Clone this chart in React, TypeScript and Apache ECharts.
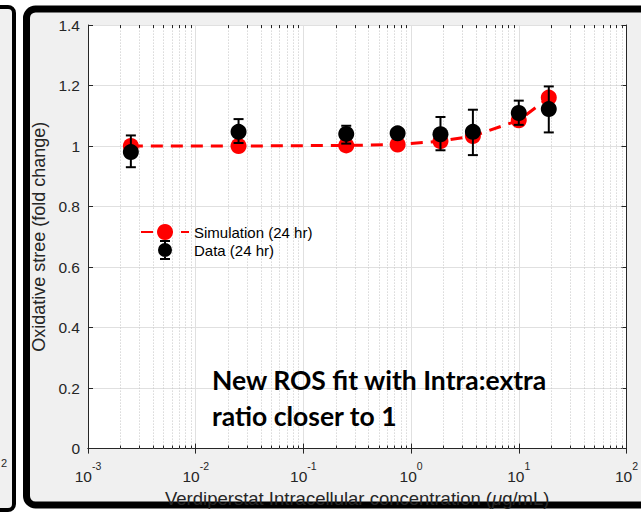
import React, { useEffect, useRef } from "react";
import * as echarts from "echarts";

// ---- data ----
const concentrations = [0.0025, 0.025, 0.25, 0.75, 1.875, 3.75, 10, 19];
const simulation = [1.0, 1.0, 1.002, 1.005, 1.016, 1.033, 1.085, 1.16];
const dataMean = [0.98, 1.047, 1.04, 1.042, 1.039, 1.047, 1.109, 1.122];
const dataLow = [0.93, 1.01, 1.008, 1.03, 0.986, 0.97, 1.07, 1.045];
const dataHigh = [1.035, 1.089, 1.067, 1.054, 1.096, 1.12, 1.15, 1.197];

const decadeExponents = [-3, -2, -1, 0, 1];
const minorMultipliers = [2, 3, 4, 5, 6, 7, 8, 9];
const minorTickValues: number[] = [];
decadeExponents.forEach((e) =>
  minorMultipliers.forEach((m) => minorTickValues.push(m * Math.pow(10, e)))
);

const FONT = "'Liberation Sans', Arial, Helvetica, sans-serif";
const AX = "#262626";
const X_MIN = 0.001;
const X_MAX = 100;
const Y_MIN = 0;
const Y_MAX = 1.4;

const px = (v: number) => Math.round(v) + 0.5;

export default function App() {
  const ref = useRef<HTMLDivElement>(null);
  useEffect(() => {
    const chart = echarts.init(ref.current!, null, { renderer: "svg" });
    const option: any = {
      animation: false,
      backgroundColor: "#ffffff",
      textStyle: { fontFamily: FONT },
      grid: {
        left: 88,
        right: 8,
        top: 25,
        bottom: 60,
        show: true,
        backgroundColor: "#ffffff",
        borderWidth: 0,
      },
      legend: {
        show: true,
        orient: "vertical",
        left: 140,
        top: 224,
        padding: 0,
        itemWidth: 48,
        itemHeight: 20,
        itemGap: 0,
        selectedMode: false,
        textStyle: { fontSize: 15, color: "#000", fontFamily: FONT },
        data: [
          { name: "Simulation (24 hr)" },
          {
            name: "Data (24 hr)",
            icon:
              "path://M2,0H12V2H8V18H12V20H2V18H6V2H2Z M0,10 A7,7 0 1,1 14,10 A7,7 0 1,1 0,10 Z",
          },
        ],
      },
      xAxis: [
        {
          type: "log",
          logBase: 10,
          min: X_MIN,
          max: X_MAX,
          position: "bottom",
          axisLine: { show: true, lineStyle: { color: AX, width: 1 } },
          axisTick: { show: true, inside: true, length: 5, lineStyle: { color: AX } },
          splitLine: { show: true, lineStyle: { color: "#e0e0e0", width: 1 } },
          axisLabel: {
            margin: 11.5,
            formatter: (v: number) => {
              const e = Math.round(Math.log10(v));
              return `{b|10}{s|${e}}`;
            },
            rich: {
              b: { fontSize: 15.5, color: AX, fontFamily: FONT, verticalAlign: "bottom", lineHeight: 24 },
              s: { fontSize: 10.5, color: AX, fontFamily: FONT, verticalAlign: "top", lineHeight: 13 },
            },
          },
          name: "Verdiperstat Intracellular concentration ({i|\u03bc}g/mL)",
          nameLocation: "middle",
          nameGap: 35,
          nameTextStyle: {
            fontSize: 18.5,
            color: AX,
            fontFamily: FONT,
            rich: {
              i: { fontSize: 18.5, color: AX, fontFamily: FONT, fontStyle: "italic" },
            },
          },
        },
        {
          type: "log",
          logBase: 10,
          min: X_MIN,
          max: X_MAX,
          position: "top",
          axisLine: { show: true, lineStyle: { color: AX, width: 1 } },
          axisTick: { show: true, inside: true, length: 5, lineStyle: { color: AX } },
          axisLabel: { show: false },
          splitLine: { show: false },
        },
      ],
      yAxis: [
        {
          type: "value",
          min: Y_MIN,
          max: Y_MAX,
          interval: 0.2,
          position: "left",
          axisLine: { show: true, lineStyle: { color: AX, width: 1 } },
          axisTick: { show: true, inside: true, length: 5, lineStyle: { color: AX } },
          splitLine: { show: true, lineStyle: { color: "#e0e0e0", width: 1 } },
          axisLabel: { fontSize: 15.5, color: AX, fontFamily: FONT, margin: 8 },
          name: "Oxidative stree (fold change)",
          nameLocation: "middle",
          nameGap: 38,
          nameTextStyle: { fontSize: 18, color: AX, fontFamily: FONT },
        },
        {
          type: "value",
          min: Y_MIN,
          max: Y_MAX,
          interval: 0.2,
          position: "right",
          axisLine: { show: true, lineStyle: { color: AX, width: 1 } },
          axisTick: { show: true, inside: true, length: 5, lineStyle: { color: AX } },
          axisLabel: { show: false },
          splitLine: { show: false },
        },
      ],
      series: [
        {
          name: "minorGrid",
          type: "custom",
          silent: true,
          z: 1,
          xAxisIndex: 0,
          yAxisIndex: 0,
          data: minorTickValues.map((v) => [v, Y_MIN]),
          encode: { x: 0, y: 1 },
          renderItem: (params: any, api: any) => {
            const v = api.value(0);
            const b = api.coord([v, Y_MIN]);
            const t = api.coord([v, Y_MAX]);
            const x = px(b[0]);
            return {
              type: "group",
              children: [
                {
                  type: "line",
                  shape: { x1: x, y1: b[1], x2: x, y2: t[1] },
                  style: { stroke: "#c4c4c4", lineWidth: 1, lineDash: [1, 2] },
                },
                {
                  type: "line",
                  shape: { x1: x, y1: b[1], x2: x, y2: b[1] - 3 },
                  style: { stroke: AX, lineWidth: 1 },
                },
                {
                  type: "line",
                  shape: { x1: x, y1: t[1], x2: x, y2: t[1] + 3 },
                  style: { stroke: AX, lineWidth: 1 },
                },
              ],
            };
          },
        },
        {
          name: "Simulation (24 hr)",
          type: "line",
          z: 3,
          data: concentrations.map((c, i) => [c, simulation[i]]),
          symbol: "circle",
          symbolSize: 16,
          itemStyle: { color: "#ff0000", opacity: 1 },
          lineStyle: { color: "#ff0000", width: 3, type: [12, 8] },
        },
        {
          name: "errorBars",
          type: "custom",
          z: 4,
          data: concentrations.map((c, i) => [c, dataLow[i], dataHigh[i]]),
          encode: { x: 0, y: [1, 2] },
          renderItem: (params: any, api: any) => {
            const x = api.value(0);
            const lo = api.coord([x, api.value(1)]);
            const hi = api.coord([x, api.value(2)]);
            const w = 5;
            const st = { stroke: "#000", lineWidth: 2 };
            return {
              type: "group",
              children: [
                { type: "line", shape: { x1: lo[0], y1: lo[1], x2: hi[0], y2: hi[1] }, style: st },
                { type: "line", shape: { x1: lo[0] - w, y1: lo[1], x2: lo[0] + w, y2: lo[1] }, style: st },
                { type: "line", shape: { x1: hi[0] - w, y1: hi[1], x2: hi[0] + w, y2: hi[1] }, style: st },
              ],
            };
          },
        },
        {
          name: "Data (24 hr)",
          type: "scatter",
          z: 5,
          data: concentrations.map((c, i) => [c, dataMean[i]]),
          symbol: "circle",
          symbolSize: 16,
          itemStyle: { color: "#000000", opacity: 1 },
        },
      ],
      graphic: [
        {
          type: "rect",
          z: -10,
          silent: true,
          shape: { x: -20, y: 7, width: 34, height: 503, r: 6 },
          style: { fill: "#f0f0f0", stroke: "#000", lineWidth: 4 },
        },
        {
          type: "text",
          z: -9,
          silent: true,
          x: 1,
          y: 463,
          style: { text: "2", fontSize: 11, fill: AX, fontFamily: FONT, verticalAlign: "middle" },
        },
        {
          type: "rect",
          z: -10,
          silent: true,
          shape: { x: 26.5, y: 9, width: 700, height: 496, r: 9 },
          style: { fill: "#f0f0f0", stroke: "#000", lineWidth: 7 },
        },
        {
          type: "text",
          z: 100,
          silent: true,
          x: 212,
          y: 380,
          style: {
            text: "New ROS fit with Intra:extra",
            fontSize: 26.5,
            fontWeight: "bold",
            fontFamily: "Lato, 'Open Sans', sans-serif",
            fill: "#000",
            verticalAlign: "middle",
            align: "left",
          },
        },
        {
          type: "text",
          z: 100,
          silent: true,
          x: 212,
          y: 416,
          style: {
            text: "ratio closer to 1",
            fontSize: 26.5,
            fontWeight: "bold",
            fontFamily: "Lato, 'Open Sans', sans-serif",
            fill: "#000",
            verticalAlign: "middle",
            align: "left",
          },
        },
      ],
    };
    chart.setOption(option);
    return () => chart.dispose();
  }, []);
  return (
    <div
      ref={ref}
      style={{ position: "absolute", left: 0, top: 0, width: 641, height: 513 }}
    />
  );
}
